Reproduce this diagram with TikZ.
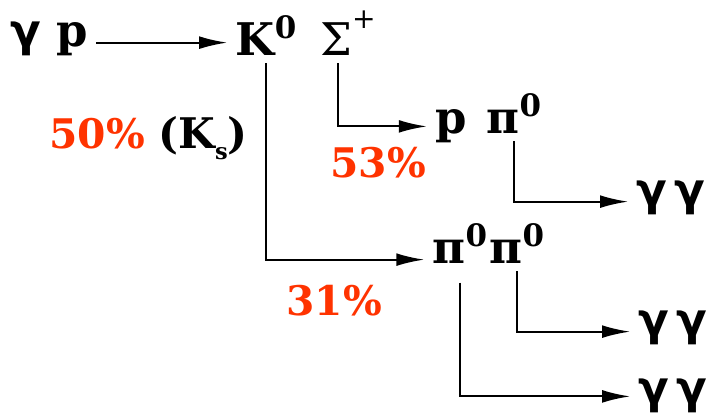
\documentclass[tikz,border=0pt]{standalone}
\usepackage{fontspec}
\setmainfont{DejaVu Serif}
\newfontfamily\grkfont{DejaVu Sans}
\usepackage{tikz}
\usetikzlibrary{arrows.meta}
\definecolor{myred}{RGB}{255,51,0}
\newcommand{\upzero}{\raisebox{0.37em}{\fontsize{22}{22}\selectfont 0}}
\newcommand{\upplus}{\raisebox{0.6em}{\fontsize{20}{20}\selectfont\mdseries +}}
\newcommand{\subs}{\raisebox{-0.28em}{\fontsize{16}{16}\selectfont s}}
\newcommand{\gam}{{\grkfont γ}}
\tikzset{
  ptcl/.style={font=\fontsize{32}{38}\selectfont\bfseries, text height=0.48em,
    text depth=0pt, inner sep=6pt, outer sep=0pt, anchor=base},
  hiptcl/.style={ptcl, text height=0.94em},
  pct/.style={font=\fontsize{29}{36}\selectfont\bfseries, text=myred,
    inner sep=0pt, anchor=base},
  note/.style={font=\fontsize{30}{36}\selectfont\bfseries, inner sep=0pt, anchor=base},
  arrow/.style={-{Latex[length=0.7cm,width=0.32cm]}, line width=1.5pt},
  line/.style={line width=1.5pt}
}
\begin{document}
\begin{tikzpicture}[x=0.025cm, y=-0.025cm]
  \useasboundingbox (0,0) rectangle (710,416);
  % Particles
  \node[ptcl] (gp) at (49,46) {\gam\ p};
  \node[hiptcl] (K) at (266,55) {K\upzero};
  \node[ptcl] (Sig) at (348,55) {{\mdseries Σ}\upplus};
  \node[hiptcl] (p) at (451,133) {p};
  \node[ptcl] (pi) at (514,133) {π\upzero};
  \node[ptcl] (gga) at (671,205) {\gam\,\gam};
  \node[ptcl] (pia) at (460,263) {π\upzero};
  \node[ptcl] (pib) at (517,263) {π\upzero};
  \node[ptcl] (ggb) at (673,335) {\gam\,\gam};
  \node[hiptcl] (ggc) at (673,403) {\gam\,\gam};

  % Branching fractions
  \node[pct] (fracK) at (97,148) {50\%};
  \node[note] (Ks) at (203,148) {(K\subs)};
  \node[pct] (fracS) at (378,177) {53\%};
  \node[pct] (fracpp) at (334,315) {31\%};

  % Decay chains
  \draw[arrow] (gp.east) -- (gp.east -| K.west);
  \draw[arrow] ([xshift=-7pt]Sig.south) |- (p.west);
  \draw[arrow] (pi.south) |- (gga.west);
  \draw[arrow] (K.south) |- (pia.west);
  \draw[arrow] (pib.south) |- (ggb.west);
  \draw[arrow] ([yshift=-8pt]pia.south) |- (ggc.west);
\end{tikzpicture}
\end{document}
